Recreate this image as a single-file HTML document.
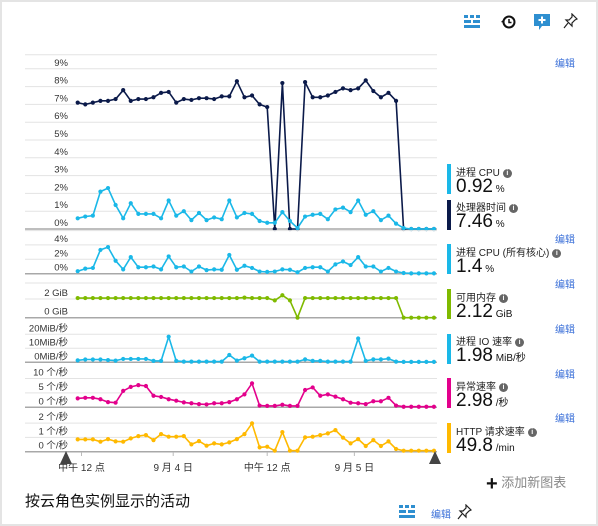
<!DOCTYPE html>
<html><head><meta charset="utf-8">
<style>
body{margin:0;background:#fff;width:598px;height:526px;overflow:hidden;font-family:"Liberation Sans","Noto Sans CJK SC",sans-serif;}
#frame{position:absolute;left:0;top:0;width:594px;height:522px;border:2px solid #e4e4e4;}
.t{position:absolute;white-space:nowrap;}
.edit{color:#3a6fd8;font-size:10px;}
.lab{font-size:10px;color:#222;}
.val{font-size:19px;color:#111;}
.unit{font-size:10px;}
.bar{position:absolute;left:447px;width:4px;}
.info{display:inline-block;width:9px;height:9px;border-radius:50%;background:#666;color:#fff;font-size:7px;line-height:9px;text-align:center;font-weight:bold;vertical-align:1px;margin-left:3px;}
</style></head>
<body>
<div id="frame"></div>
<svg id="chart" width="598" height="526" style="position:absolute;left:0;top:0"></svg>

<svg style="position:absolute;left:464px;top:15px" width="16" height="14"><rect x="0" y="0" width="4" height="3" fill="#2e8fd0"/><rect x="6" y="0" width="4" height="3" fill="#2e8fd0"/><rect x="12" y="0" width="4" height="3" fill="#2e8fd0"/><rect x="0" y="5" width="7" height="3" fill="#2e8fd0"/><rect x="9" y="5" width="7" height="3" fill="#2e8fd0"/><rect x="0" y="10" width="16" height="3" fill="#2e8fd0"/></svg>
<svg style="position:absolute;left:500px;top:14px" width="16" height="16"><circle cx="9" cy="8" r="5.5" fill="none" stroke="#111" stroke-width="2"/><path d="M9 5v3.5h2.5" stroke="#111" stroke-width="1.5" fill="none"/><path d="M1 8l3 -3l0 4z" fill="#111"/></svg>
<svg style="position:absolute;left:533px;top:13px" width="18" height="18"><path d="M1 1h16v12h-8l-3 4v-4h-5z" fill="#2e8fd0"/><path d="M9 3.5v7M5.5 7h7" stroke="#fff" stroke-width="2"/></svg>
<svg style="position:absolute;left:563px;top:13px" width="15" height="16"><path d="M9 1l5 5l-2 1l-3 3l0 3l-6-6l3 0l3-3z" fill="none" stroke="#222" stroke-width="1.2"/><path d="M5 10l-4 5" stroke="#222" stroke-width="1.2"/></svg>
<div class="t edit" style="left:555px;top:55px">编辑</div>

<div class="bar" style="top:164px;height:30px;background:#1ab8e8"></div>
<div class="t lab" style="left:456px;top:164px">进程 CPU<span class="info">i</span></div>
<div class="t val" style="left:456px;top:176px">0.92<span class="unit"> %</span></div>
<div class="bar" style="top:200px;height:30px;background:#0b1a4a"></div>
<div class="t lab" style="left:456px;top:199px">处理器时间<span class="info">i</span></div>
<div class="t val" style="left:456px;top:211px">7.46<span class="unit"> %</span></div>
<div class="t edit" style="left:555px;top:231px">编辑</div>
<div class="bar" style="top:244px;height:30px;background:#1ab8e8"></div>
<div class="t lab" style="left:456px;top:244px">进程 CPU (所有核心)<span class="info">i</span></div>
<div class="t val" style="left:456px;top:256px">1.4<span class="unit"> %</span></div>
<div class="t edit" style="left:555px;top:276px">编辑</div>
<div class="bar" style="top:289px;height:30px;background:#7fba00"></div>
<div class="t lab" style="left:456px;top:289px">可用内存<span class="info">i</span></div>
<div class="t val" style="left:456px;top:301px">2.12<span class="unit"> GiB</span></div>
<div class="t edit" style="left:555px;top:321px">编辑</div>
<div class="bar" style="top:334px;height:30px;background:#1ab8e8"></div>
<div class="t lab" style="left:456px;top:333px">进程 IO 速率<span class="info">i</span></div>
<div class="t val" style="left:456px;top:345px">1.98<span class="unit"> MiB/秒</span></div>
<div class="t edit" style="left:555px;top:366px">编辑</div>
<div class="bar" style="top:378px;height:30px;background:#e3008c"></div>
<div class="t lab" style="left:456px;top:378px">异常速率<span class="info">i</span></div>
<div class="t val" style="left:456px;top:390px">2.98<span class="unit"> /秒</span></div>
<div class="t edit" style="left:555px;top:410px">编辑</div>
<div class="bar" style="top:423px;height:30px;background:#ffb900"></div>
<div class="t lab" style="left:456px;top:423px">HTTP 请求速率<span class="info">i</span></div>
<div class="t val" style="left:456px;top:435px">49.8<span class="unit"> /min</span></div>

<div class="t" style="left:486px;top:472px;font-size:13px;color:#888"><b style="color:#111;font-size:20px;vertical-align:-3px">+</b> 添加新图表</div>
<div class="t" style="left:25px;top:490px;font-size:15px;color:#111">按云角色实例显示的活动</div>
<svg style="position:absolute;left:399px;top:505px" width="16" height="14"><rect x="0" y="0" width="4" height="3" fill="#2e8fd0"/><rect x="6" y="0" width="4" height="3" fill="#2e8fd0"/><rect x="12" y="0" width="4" height="3" fill="#2e8fd0"/><rect x="0" y="5" width="7" height="3" fill="#2e8fd0"/><rect x="9" y="5" width="7" height="3" fill="#2e8fd0"/><rect x="0" y="10" width="16" height="3" fill="#2e8fd0"/></svg>
<div class="t edit" style="left:431px;top:506px">编辑</div>
<svg style="position:absolute;left:457px;top:504px" width="15" height="16"><path d="M9 1l5 5l-2 1l-3 3l0 3l-6-6l3 0l3-3z" fill="none" stroke="#222" stroke-width="1.2"/><path d="M5 10l-4 5" stroke="#222" stroke-width="1.2"/></svg>

<script>
const processorTime=[7.1,7.0,7.1,7.2,7.2,7.3,7.8,7.2,7.3,7.3,7.4,7.65,7.7,7.1,7.3,7.25,7.35,7.35,7.3,7.45,7.45,8.3,7.4,7.5,7.0,6.85,0,8.2,0,0,8.25,7.4,7.4,7.5,7.7,7.9,7.8,7.9,8.35,7.75,7.4,7.65,7.2,0,0,0,0,0];
const processCpu=[0.6,0.7,0.75,2.1,2.3,1.35,0.6,1.45,0.85,0.85,0.85,0.6,1.6,0.75,1.0,0.5,0.9,0.5,0.65,0.55,1.6,0.65,0.9,0.85,0.45,0.35,0.35,0.95,0.45,0.05,0.7,0.8,0.85,0.55,1.1,1.2,0.95,1.6,0.8,1.0,0.5,0.75,0.3,0.05,0,0,0,0];
const cpuAllCores=[0.35,0.7,0.8,3.3,3.7,1.8,0.6,2.3,0.9,0.9,1.0,0.6,2.4,0.9,1.0,0.3,1.0,0.5,0.6,0.55,2.6,0.55,1.1,0.8,0.3,0.25,0.3,0.6,0.55,0.2,0.8,0.9,0.9,0.3,1.3,1.7,1.2,2.3,1.0,1.0,0.3,0.8,0.3,0.1,0.05,0.05,0.05,0.05];
const memory=[2.1,2.1,2.1,2.1,2.1,2.1,2.1,2.1,2.1,2.1,2.1,2.1,2.1,2.1,2.1,2.1,2.1,2.1,2.1,2.1,2.1,2.1,2.15,2.1,2.1,2.1,1.85,2.4,1.85,0,2.1,2.1,2.1,2.1,2.1,2.1,2.1,2.1,2.1,2.1,2.1,2.1,2.1,0,0,0,0,0];
const ioRate=[1.4,2,2,2,1.6,1.2,2.4,2.4,2.4,2.4,1,1,18.3,1,0.5,0.5,0.5,0.5,0.5,0.5,5.2,1.2,2.9,4.8,0.5,0.5,0.5,0.5,0.5,0.5,2.1,1,1,0.5,0.5,0.5,0.5,17,1,2.1,2.1,2.6,0.5,0.3,0.3,0.3,0.3,0.3];
const exceptions=[3.1,3.3,3.3,2.8,1.8,1.6,5.7,7.1,7.7,7.4,4.0,3.6,2.8,2.3,1.7,1.4,1.1,1.0,1.4,1.4,1.8,2.8,4.5,8.3,0.6,0.5,0.5,0.9,0.5,0.5,6.0,6.9,4.0,4.5,3.7,2.8,1.6,1.4,1.1,2.1,2.1,3.3,0.6,0.2,0.2,0.2,0.2,0.2];
const httpRate=[0.86,0.86,0.86,0.7,0.88,0.72,0.7,0.93,1.09,1.16,0.81,1.23,1.05,1.05,1.09,0.51,0.74,0.42,0.58,0.51,0.65,0.88,1.23,1.98,0.3,0.35,0.07,1.37,0.07,0.07,1.0,1.05,1.16,1.28,1.51,0.98,0.58,0.88,0.4,0.81,0.4,0.72,0.19,0.07,0.07,0.07,0.07,0.07];
const xTickLabels=["中午 12 点","9 月 4 日","中午 12 点","9 月 5 日"];
const xTickIndex=[0.5,12.6,25,36.5];
const pctTicks=["0%","1%","2%","3%","4%","5%","6%","7%","8%","9%"];
const cpuAllTicks=["0%","2%","4%"];
const memTicks=["0 GiB","2 GiB"];
const ioTicks=["0MiB/秒","10MiB/秒","20MiB/秒"];
const excTicks=["0 个/秒","5 个/秒","10 个/秒"];
const httpTicks=["0 个/秒","1 个/秒","2 个/秒"];

const svg=document.getElementById('chart');
const NS='http://www.w3.org/2000/svg';
const X0=77.7, DX=7.58, GL=25, GR=437;
function xs(i){return X0+i*DX;}
function mk(tag,attrs){const e=document.createElementNS(NS,tag);for(const k in attrs)e.setAttribute(k,attrs[k]);svg.appendChild(e);return e;}
function panel(name,y0,pxPer,step,ticks,top,series){
  const ys=v=>y0-v*pxPer;
  if(top!==null){const t=mk('line',{x1:GL,x2:GR,y1:top,y2:top,stroke:'#e3e3e3','stroke-width':1});
    
    }
  ticks.forEach((lab,k)=>{
    const y=ys(k*step);
    if(k>0){const g=mk('line',{x1:GL,x2:GR,y1:y,y2:y,stroke:'#e3e3e3','stroke-width':1});
      
      }
    const t=mk('text',{x:68,y:y-3,'text-anchor':'end','font-size':9.5,fill:'#333'});
    t.textContent=lab;
    
    
  });
  const ax=mk('line',{x1:GL,x2:GR,y1:y0,y2:y0,stroke:'#a8a8a8','stroke-width':1.5});
  
  
  series.forEach(s=>{
    const pts=s.data.map((v,i)=>xs(i).toFixed(1)+','+ys(v).toFixed(1)).join(' ');
    const pl=mk('polyline',{points:pts,fill:'none',stroke:s.color,'stroke-width':1.6,'stroke-linejoin':'round'});
    
    
    s.data.forEach((v,i)=>{
      const c=mk('circle',{cx:xs(i),cy:ys(v),r:2.1,fill:s.color});
      
      
    });
  });
}
panel('cpu-chart',229,17.8,1,pctTicks,54.7,[{name:'processor-time',data:processorTime,color:'#0b1a4a'},{name:'process-cpu',data:processCpu,color:'#1ab8e8'}]);
panel('cpu-all-cores-chart',273.7,7.2,2,cpuAllTicks,230.6,[{name:'cpu-all-cores',data:cpuAllCores,color:'#1ab8e8'}]);
panel('memory-chart',317.7,9.35,2,memTicks,283,[{name:'memory',data:memory,color:'#7fba00'}]);
panel('io-chart',362.3,1.4,10,ioTicks,null,[{name:'io-rate',data:ioRate,color:'#1ab8e8'}]);
panel('exceptions-chart',407.3,2.88,5,excTicks,null,[{name:'exceptions',data:exceptions,color:'#e3008c'}]);
panel('http-chart',451.7,14.3,1,httpTicks,null,[{name:'http-rate',data:httpRate,color:'#ffb900'}]);

xTickIndex.forEach((idx,k)=>{
  const x=xs(idx);
  const tk=mk('line',{x1:x,x2:x,y1:452,y2:456,stroke:'#bbb'});
  
  
  const t=mk('text',{x:x,y:471,'text-anchor':'middle','font-size':10,fill:'#333'});
  t.textContent=xTickLabels[k];
  
  
});
const h1=mk('polygon',{points:'66,451 60,464 72,464',fill:'#444'});


const h2=mk('polygon',{points:'435,451 429,464 441,464',fill:'#444'});


</script>
</body></html>
